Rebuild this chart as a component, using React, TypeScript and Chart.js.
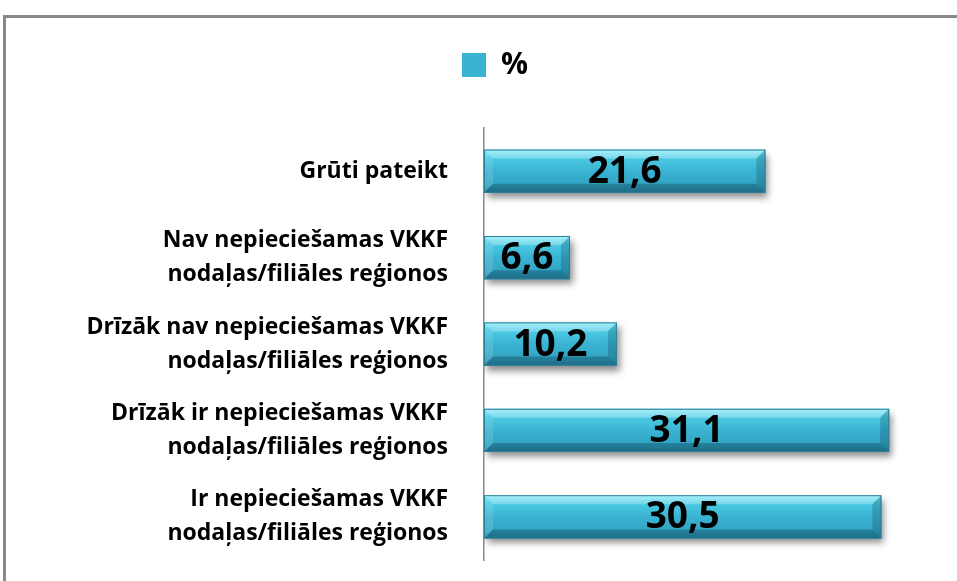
import { useEffect, useRef } from 'react';
import { Chart, registerables } from 'chart.js';

Chart.register(...registerables);

const categories: string[][] = [
  ['Grūti pateikt'],
  ['Nav nepieciešamas VKKF', 'nodaļas/filiāles reģionos'],
  ['Drīzāk nav nepieciešamas VKKF', 'nodaļas/filiāles reģionos'],
  ['Drīzāk ir nepieciešamas VKKF', 'nodaļas/filiāles reģionos'],
  ['Ir nepieciešamas VKKF', 'nodaļas/filiāles reģionos'],
];
const seriesName = '%';
const values: number[] = [21.6, 6.6, 10.2, 31.1, 30.5];
const xMin = 0;
const xMax = 35;

const fmt = (v: number) => v.toFixed(1).replace('.', ',');

const frame = {
  id: 'frame',
  beforeDraw(chart: any) {
    const c = chart.ctx;
    c.save();
    c.fillStyle = '#fff';
    c.fillRect(0, 0, chart.width, chart.height);
    c.strokeStyle = '#888';
    c.lineWidth = 3;
    c.beginPath();
    c.moveTo(4.5, chart.height + 5);
    c.lineTo(4.5, 16.5);
    c.lineTo(chart.width + 5, 16.5);
    c.stroke();
    c.restore();
  },
};

const barStyle = {
  id: 'barStyle',
  beforeDatasetsDraw(chart: any) {
    const c = chart.ctx;
    c.save();
    c.shadowColor = 'rgba(0,0,0,0.45)';
    c.shadowBlur = 7;
    c.shadowOffsetX = 3;
    c.shadowOffsetY = 5;
  },
  afterDatasetsDraw(chart: any) {
    const c = chart.ctx;
    c.restore();
    const meta = chart.getDatasetMeta(0);
    const data = chart.data.datasets[0].data as number[];
    meta.data.forEach((el: any, i: number) => {
      const { x, y, base, height } = el.getProps(['x', 'y', 'base', 'height'], true);
      const top = y - height / 2;
      const bottom = y + height / 2;
      const left = Math.min(base, x);
      const right = Math.max(base, x);
      const w = right - left;
      c.save();
      const g = c.createLinearGradient(0, top, 0, bottom);
      g.addColorStop(0, '#86ecfb');
      g.addColorStop(0.18, '#4ccbe4');
      g.addColorStop(0.5, '#3ab3d2');
      g.addColorStop(0.82, '#33a4c3');
      g.addColorStop(1, '#2a87a3');
      c.fillStyle = g;
      c.fillRect(left, top, w, height);
      const b = Math.min(9, height * 0.22, w / 2);
      c.fillStyle = 'rgba(255,255,255,0.28)';
      c.beginPath();
      c.moveTo(left, top); c.lineTo(right, top); c.lineTo(right - b, top + b); c.lineTo(left + b, top + b);
      c.closePath(); c.fill();
      c.fillStyle = 'rgba(10,60,80,0.35)';
      c.beginPath();
      c.moveTo(left, bottom); c.lineTo(right, bottom); c.lineTo(right - b, bottom - b); c.lineTo(left + b, bottom - b);
      c.closePath(); c.fill();
      c.fillStyle = 'rgba(10,60,80,0.25)';
      c.beginPath();
      c.moveTo(right, top); c.lineTo(right, bottom); c.lineTo(right - b, bottom - b); c.lineTo(right - b, top + b);
      c.closePath(); c.fill();
      c.fillStyle = 'rgba(255,255,255,0.12)';
      c.beginPath();
      c.moveTo(left, top); c.lineTo(left, bottom); c.lineTo(left + b, bottom - b); c.lineTo(left + b, top + b);
      c.closePath(); c.fill();
      c.strokeStyle = '#2a7f99';
      c.lineWidth = 1;
      c.strokeRect(left + 0.5, top + 0.5, w - 1, height - 1);
      c.fillStyle = '#000';
      c.font = 'bold 37px "Open Sans"';
      c.textAlign = 'center';
      c.textBaseline = 'middle';
      c.fillText(fmt(data[i]), (left + right) / 2, y + 1);
      c.restore();
    });
  },
};

export default function App() {
  const ref = useRef<HTMLCanvasElement>(null);
  useEffect(() => {
    if (!ref.current) return;
    const chart = new Chart(ref.current, {
      type: 'bar',
      data: {
        labels: categories,
        datasets: [
          {
            label: seriesName,
            data: values,
            backgroundColor: '#3ab3d2',
            borderColor: '#2a7f99',
            borderWidth: 0,
            barPercentage: 0.5,
            categoryPercentage: 1,
          },
        ],
      },
      options: {
        indexAxis: 'y',
        responsive: false,
        animation: false,
        layout: { padding: { left: 50, right: 17, top: 40, bottom: 21 } },
        plugins: {
          legend: {
            position: 'top',
            labels: {
              boxWidth: 24,
              boxHeight: 24,
              padding: 10,
              color: '#000',
              font: { family: 'Open Sans', size: 30, weight: 'bold' },
            },
          },
          tooltip: { enabled: false },
        },
        scales: {
          x: {
            position: 'top',
            min: xMin,
            max: xMax,
            grid: { display: false },
            border: { display: false },
            ticks: { display: false },
            afterFit: (s: any) => { s.height = 38; },
          },
          y: {
            grid: { display: false, drawTicks: true, tickLength: 36 },
            border: { display: true, color: '#8a8a8a', width: 1.5 },
            ticks: {
              padding: 0,
              color: '#000',
              font: { family: 'Open Sans', size: 23, weight: 'bold', lineHeight: 1.48 },
            },
            afterFit: (s: any) => { s.width = 434; },
          },
        },
      },
      plugins: [frame, barStyle],
    });
    return () => chart.destroy();
  }, []);
  return (
    <div style={{ position: 'fixed', left: 0, top: 0, width: 957, height: 581, overflow: 'hidden', background: '#fff' }}>
      <canvas ref={ref} width={957} height={581} style={{ position: 'absolute', left: 0, top: 0, display: 'block' }} />
    </div>
  );
}
